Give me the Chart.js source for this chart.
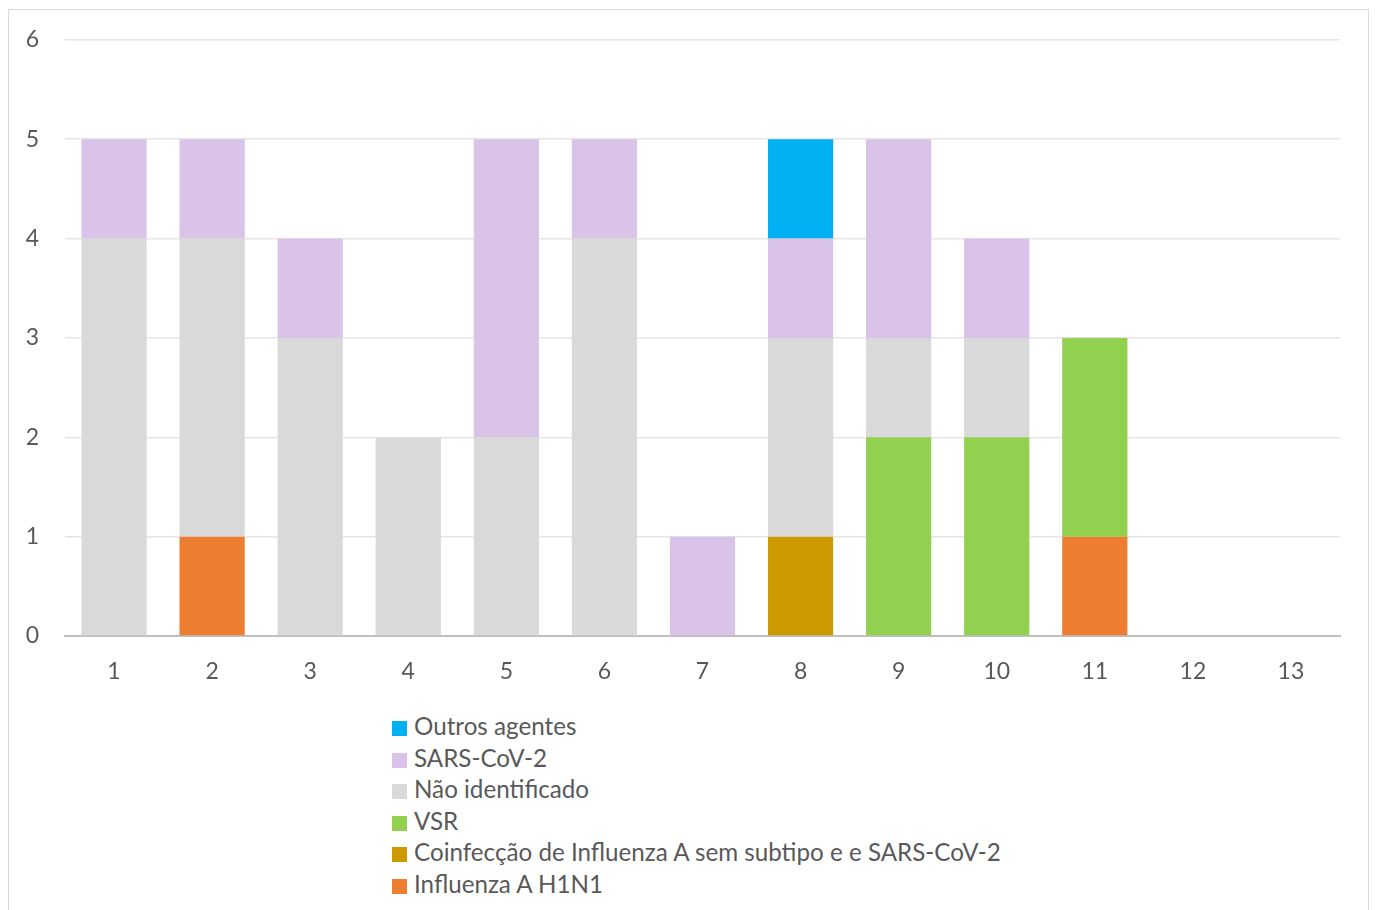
<!DOCTYPE html>
<html>
<head>
<meta charset="utf-8">
<script src="https://cdn.jsdelivr.net/npm/chart.js@4"></script>
<style>
  body { margin: 0; background: #fff; font-family: Lato, "Open Sans", sans-serif; }
  #frame { position: absolute; left: 8px; top: 9px; width: 1361px; height: 920px; border: 1px solid #d9d9d9; box-sizing: border-box; }
  #wrap { position: absolute; left: 0; top: -10px; width: 1360px; height: 700px; }
  #legend { position: absolute; left: 383px; top: 700px; color: #595959; font-size: 24.2px; }
  #legend div { height: 31.6px; line-height: 31.6px; white-space: nowrap; }
  #legend span { display: inline-block; width: 15px; height: 15px; margin-right: 7px; vertical-align: -1px; }
</style>
</head>
<body>
<div id="frame">
  <div id="wrap"><canvas id="chart"></canvas></div>
  <div id="legend"></div>
</div>
<script>
const categories = ["1", "2", "3", "4", "5", "6", "7", "8", "9", "10", "11", "12", "13"];
const influenzaH1N1 = [0, 1, 0, 0, 0, 0, 0, 0, 0, 0, 1, 0, 0];
const coinfeccao = [0, 0, 0, 0, 0, 0, 0, 1, 0, 0, 0, 0, 0];
const vsr = [0, 0, 0, 0, 0, 0, 0, 0, 2, 2, 2, 0, 0];
const naoIdentificado = [4, 3, 3, 2, 2, 4, 0, 2, 1, 1, 0, 0, 0];
const sarsCov2 = [1, 1, 1, 0, 3, 1, 1, 1, 2, 1, 0, 0, 0];
const outrosAgentes = [0, 0, 0, 0, 0, 0, 0, 1, 0, 0, 0, 0, 0];

const series = [
  { label: "Influenza A H1N1", data: influenzaH1N1, color: "#ED7D31" },
  { label: "Coinfecção de Influenza A sem subtipo e e SARS-CoV-2", data: coinfeccao, color: "#CC9900" },
  { label: "VSR", data: vsr, color: "#92D050" },
  { label: "Não identificado", data: naoIdentificado, color: "#D9D9D9" },
  { label: "SARS-CoV-2", data: sarsCov2, color: "#D9C3E9" },
  { label: "Outros agentes", data: outrosAgentes, color: "#00B0F0" }
];

const tickFont = { family: "Lato, 'Open Sans', sans-serif", size: 23 };

const chart = new Chart(document.getElementById("chart"), {
  type: "bar",
  data: {
    labels: categories,
    datasets: series.map(s => ({
      label: s.label,
      data: s.data,
      backgroundColor: s.color,
      categoryPercentage: 1,
      barPercentage: 0.665
    }))
  },
  options: {
    responsive: true,
    maintainAspectRatio: false,
    animation: false,
    layout: { padding: { top: 19, right: 29, left: 9, bottom: 0 } },
    plugins: { legend: { display: false }, tooltip: { enabled: false } },
    scales: {
      x: {
        stacked: true,
        grid: { display: false },
        border: { color: "#bfbfbf", width: 2 },
        ticks: { color: "#595959", font: tickFont, padding: 14 },
        afterFit: scale => { scale.height = 64; }
      },
      y: {
        stacked: true,
        min: 0,
        max: 6,
        ticks: { stepSize: 1, color: "#595959", font: tickFont, padding: 26 },
        grid: { color: "#e6e6e6", lineWidth: 1.5, drawTicks: false },
        border: { display: false },
        afterFit: scale => { scale.width = 47; }
      }
    }
  }
});

// vertical legend, top item = top of the stack
const legend = document.getElementById("legend");
series.slice().reverse().forEach(s => {
  const row = document.createElement("div");
  const box = document.createElement("span");
  box.style.background = s.color;
  row.appendChild(box);
  row.appendChild(document.createTextNode(s.label));
  legend.appendChild(row);
});
</script>
</body>
</html>
